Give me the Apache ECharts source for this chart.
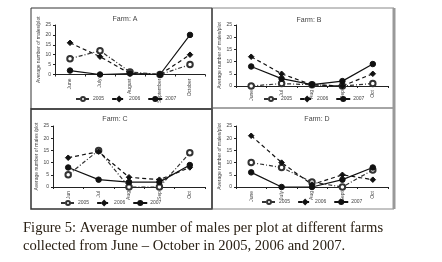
<!DOCTYPE html>
<html><head><meta charset="utf-8">
<script src="https://cdn.jsdelivr.net/npm/echarts@6/dist/echarts.min.js"></script>
<style>html,body{margin:0;padding:0;background:#fff}#c{width:442px;height:262px}</style>
</head><body><div id="c"></div>
<script>
const farms = ['Farm: A','Farm: B','Farm: C','Farm: D'];
const years = ['2005','2006','2007'];
const catsA = ['June','July','August','September','October'];
const catsB = ['June','Jul','Aug','Sep','Oct'];
const catsC = ['Jun','Jul','Aug','Sep','Oct'];
const catsD = ['June','July','Aug','Sept','Oct'];
const yTicks = [0,5,10,15,20,25];
// Farm A
const a2005 = [8,12,1.3,0,5];
const a2006 = [16,9,0.5,0,10];
const a2007 = [2,0,0.5,0,20];
// Farm B
const b2005 = [0,1,0.5,0,1];
const b2006 = [12,5,0.5,0,5];
const b2007 = [8,3,0.6,2,9];
// Farm C
const c2005 = [5,15,0,0,14];
const c2006 = [12,14.5,4,3,8];
const c2007 = [8,3,2,2,9];
// Farm D
const d2005 = [10,8,2,0,7];
const d2006 = [21,10,1,5,3];
const d2007 = [6,0,0,3,8];

const cats = [catsA,catsB,catsC,catsD];
const data = [[a2005,a2006,a2007],[b2005,b2006,b2007],[c2005,c2006,c2007],[d2005,d2006,d2007]];
const yNames = ['Average number of males/plot','Average number of males/plot','Average number of males /plot','Average number of males/plot'];

const grids = [
  {left:55,top:25,width:150,height:49.5},
  {left:236,top:25,width:152,height:61},
  {left:53,top:126,width:152,height:61},
  {left:236,top:126,width:152,height:61}
];
const titlePos = [{x:120,y:11},{x:304,y:12},{x:110,y:111},{x:312,y:111}];
const legendPos = [{x:75,y:96},{x:263,y:96},{x:60,y:200},{x:261,y:199}];
const yNameGap = [13,11,11,11];

const styles = [
  {symbol:'emptyCircle',type:[4,2,1,2],color:'#333'},
  {symbol:'diamond',type:[4,3],color:'#111'},
  {symbol:'circle',type:'solid',color:'#111'}
];

const option = {
  animation:false,
  backgroundColor:'#fff',
  title: farms.map((f,i)=>({text:f,left:titlePos[i].x,top:titlePos[i].y,textAlign:'center',
    textStyle:{fontSize:7,fontWeight:'normal',color:'#444',fontFamily:'Liberation Sans'}})),
  legend: legendPos.map(p=>({data:years,left:p.x,top:p.y,itemWidth:14,itemHeight:5,itemGap:7,
    textStyle:{fontSize:5,color:'#444',padding:[0,0,0,-2]},padding:0})),
  grid: grids,
  xAxis: cats.map((c,i)=>({type:'category',gridIndex:i,data:c,boundaryGap:true,
    axisLine:{lineStyle:{color:'#222',width:1}},axisTick:{show:true,length:2,lineStyle:{color:'#222'}},
    axisLabel:{rotate:90,fontSize:5,color:'#444',margin:4,interval:0}})),
  yAxis: grids.map((g,i)=>({type:'value',gridIndex:i,min:yTicks[0],max:yTicks[yTicks.length-1],interval:5,
    name:yNames[i],nameLocation:'middle',nameGap:yNameGap[i],nameRotate:90,
    nameTextStyle:{fontSize:5,color:'#444'},
    splitLine:{show:false},axisLine:{show:true,lineStyle:{color:'#222'}},
    axisTick:{show:true,length:2,lineStyle:{color:'#222'}},
    axisLabel:{fontSize:5,color:'#444',margin:4}})),
  series: [],
  graphic: [
    {type:'rect',shape:{x:31,y:8,width:181,height:101},style:{fill:'none',stroke:'#333',lineWidth:1}},
    {type:'rect',shape:{x:31,y:109,width:181,height:100},style:{fill:'none',stroke:'#333',lineWidth:1.5}},
    {type:'rect',shape:{x:212,y:8,width:182,height:100},style:{fill:'none',stroke:'#888',lineWidth:1}},
    {type:'rect',shape:{x:212,y:108,width:182,height:101},style:{fill:'none',stroke:'#888',lineWidth:1}},
    {type:'line',shape:{x1:394,y1:8,x2:394,y2:209},style:{stroke:'#999',lineWidth:3}},
    {type:'line',shape:{x1:212,y1:8,x2:212,y2:209},style:{stroke:'#333',lineWidth:1}},
    {type:'text',left:23,top:221,style:{text:'Figure 5: Average number of males per plot at different farms',
      font:'14.6px "Liberation Serif"',fill:'#2a2014'}},
    {type:'text',left:23,top:239,style:{text:'collected from June \u2013 October in 2005, 2006 and 2007.',
      font:'14.6px "Liberation Serif"',fill:'#2a2014'}}
  ]
};
data.forEach((set,gi)=>{
  set.forEach((vals,yi)=>{
    const s = styles[yi];
    option.series.push({type:'line',name:years[yi],xAxisIndex:gi,yAxisIndex:gi,data:vals,
      symbol:s.symbol,symbolSize:5.5,
      lineStyle:{color:s.color,width:1.2,type:s.type},
      itemStyle:{color:s.color,borderColor:s.color,borderWidth:1}});
  });
});
echarts.init(document.getElementById('c'),null,{renderer:'canvas'}).setOption(option);
</script></body></html>
